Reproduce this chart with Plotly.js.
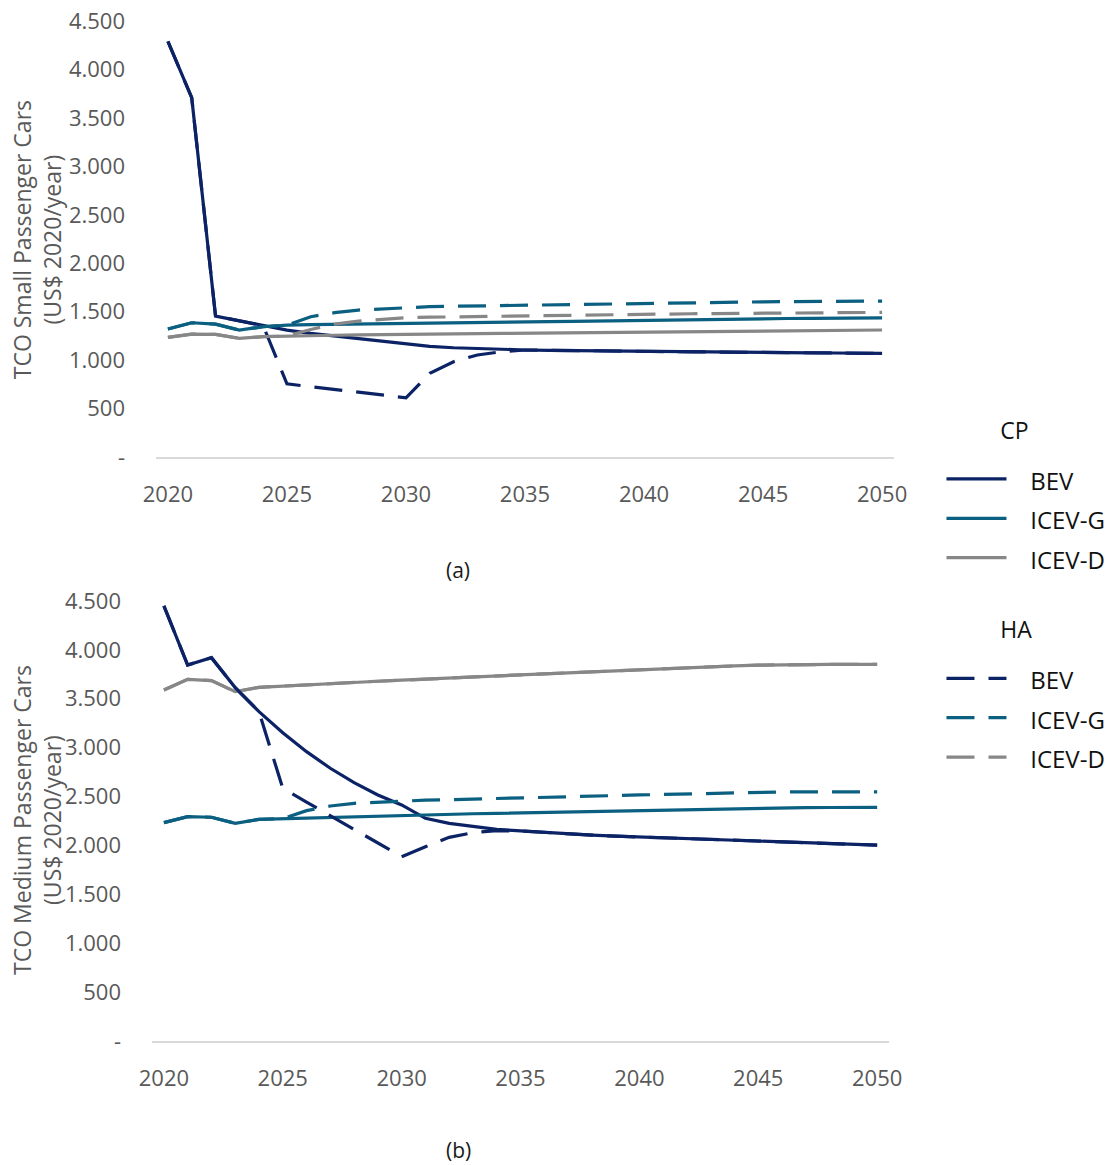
<!DOCTYPE html>
<html>
<head>
<meta charset="utf-8">
<script src="https://cdn.plot.ly/plotly-3.0.1.min.js"></script>
<style>
  html, body { margin: 0; padding: 0; background: #ffffff; }
  #chart { width: 1118px; height: 1165px; }
</style>
</head>
<body>
<div id="chart"></div>
<script>
// Years on the horizontal axis
const years = [2020, 2021, 2022, 2023, 2024, 2025, 2026, 2027, 2028, 2029, 2030,
               2031, 2032, 2033, 2034, 2035, 2036, 2037, 2038, 2039, 2040,
               2041, 2042, 2043, 2044, 2045, 2046, 2047, 2048, 2049, 2050];

// Tick labels
const xTickVals = [2020, 2025, 2030, 2035, 2040, 2045, 2050];
const yTickVals = [0, 500, 1000, 1500, 2000, 2500, 3000, 3500, 4000, 4500];
const yTickText = ['-', '500', '1.000', '1.500', '2.000', '2.500', '3.000', '3.500', '4.000', '4.500'];

// Small passenger cars, US$ 2020/year — CP scenario
const smallCpBev   = [4290, 3708, 1455, 1405, 1356, 1310, 1276, 1249, 1225, 1197, 1176,
                      1142, 1128, 1118, 1111, 1105, 1101, 1098, 1095, 1092, 1090,
                      1088, 1086, 1084, 1082, 1080, 1078, 1076, 1074, 1072, 1070];
const smallCpIcevG = [1321, 1386, 1372, 1310, 1345, 1362, 1366, 1370, 1374, 1378, 1382,
                      1385, 1388, 1390, 1392, 1395, 1398, 1401, 1405, 1409, 1413,
                      1416, 1419, 1422, 1425, 1428, 1430, 1432, 1434, 1436, 1437];
const smallCpIcevD = [1235, 1269, 1266, 1225, 1242, 1249, 1253, 1257, 1261, 1265, 1268,
                      1270, 1272, 1274, 1276, 1278, 1281, 1284, 1287, 1290, 1293,
                      1295, 1297, 1299, 1301, 1303, 1305, 1307, 1309, 1310, 1311];
// Small passenger cars — HA scenario
const smallHaBev   = [4290, 3708, 1455, 1405, 1356, 755, 726, 691, 664, 636, 612,
                      864, 984, 1053, 1087, 1105, 1101, 1098, 1095, 1092, 1090,
                      1088, 1086, 1084, 1082, 1080, 1078, 1076, 1074, 1072, 1070];
const smallHaIcevG = [1321, 1386, 1372, 1310, 1345, 1362, 1448, 1490, 1517, 1531, 1545,
                      1552, 1556, 1560, 1566, 1570, 1573, 1576, 1580, 1584, 1588,
                      1591, 1594, 1597, 1600, 1602, 1604, 1606, 1608, 1609, 1610];
const smallHaIcevD = [1235, 1269, 1266, 1225, 1242, 1249, 1317, 1372, 1403, 1424, 1438,
                      1443, 1447, 1450, 1455, 1458, 1461, 1464, 1467, 1470, 1473,
                      1476, 1479, 1481, 1483, 1485, 1487, 1489, 1491, 1492, 1493];

// Medium passenger cars, US$ 2020/year — CP scenario
const mediumCpBev   = [4449, 3845, 3920, 3614, 3368, 3153, 2959, 2789, 2642, 2516, 2414,
                       2277, 2226, 2192, 2165, 2148, 2132, 2118, 2105, 2095, 2086,
                       2076, 2068, 2059, 2050, 2042, 2034, 2026, 2018, 2010, 2003];
const mediumCpIcevG = [2233, 2294, 2288, 2226, 2267, 2274, 2281, 2288, 2295, 2302, 2309,
                       2314, 2319, 2324, 2328, 2333, 2337, 2341, 2346, 2350, 2355,
                       2361, 2366, 2372, 2377, 2382, 2385, 2387, 2388, 2389, 2390];
const mediumCpIcevD = [3590, 3699, 3685, 3573, 3617, 3631, 3643, 3655, 3667, 3679, 3690,
                       3702, 3714, 3726, 3738, 3745, 3755, 3765, 3776, 3788, 3800,
                       3808, 3816, 3826, 3836, 3844, 3848, 3850, 3851, 3851, 3851];
// Medium passenger cars — HA scenario
const mediumHaBev   = [4449, 3845, 3920, 3614, 3368, 2584, 2444, 2304, 2165, 2025, 1885,
                       1987, 2083, 2131, 2151, 2148, 2132, 2118, 2105, 2095, 2086,
                       2076, 2068, 2059, 2050, 2042, 2034, 2026, 2018, 2010, 2003];
const mediumHaIcevG = [2233, 2294, 2288, 2226, 2267, 2274, 2356, 2403, 2431, 2444, 2458,
                       2463, 2468, 2473, 2477, 2484, 2490, 2497, 2504, 2510, 2516,
                       2522, 2528, 2534, 2540, 2545, 2547, 2548, 2548, 2548, 2548];
const mediumHaIcevD = [3590, 3699, 3685, 3573, 3617, 3631, 3643, 3655, 3667, 3679, 3690,
                       3702, 3714, 3726, 3738, 3745, 3755, 3765, 3776, 3788, 3800,
                       3808, 3816, 3826, 3836, 3844, 3848, 3850, 3851, 3851, 3851];

const scenarios = ['CP', 'HA'];
const technologies = ['BEV', 'ICEV-G', 'ICEV-D'];
const panelLabels = ['(a)', '(b)'];
const axisTitles = ['TCO Small Passenger Cars<br>(US$ 2020/year)',
                    'TCO Medium Passenger Cars<br>(US$ 2020/year)'];

const techColors = { 'BEV': '#0B2265', 'ICEV-G': '#0B5F80', 'ICEV-D': '#878787' };
const scenarioDash = { 'CP': 'solid', 'HA': '28px,14px' };

const panels = [
  { xa: 'x',  ya: 'y',  series: { CP: [smallCpBev, smallCpIcevG, smallCpIcevD],
                                  HA: [smallHaBev, smallHaIcevG, smallHaIcevD] } },
  { xa: 'x2', ya: 'y2', series: { CP: [mediumCpBev, mediumCpIcevG, mediumCpIcevD],
                                  HA: [mediumHaBev, mediumHaIcevG, mediumHaIcevD] } }
];

const TEXT_GREY = '#595959';
const FONT = 'Open Sans, Liberation Sans, sans-serif';
const NBSP = '\u00a0';

// Legend entries: text set apart from the line sample, group headings indented
function legendName(tech) {
  return '<span style="font-size:24px">' + NBSP.repeat(3) + tech + '</span>';
}
function groupHeading(sc) {
  return '<span style="font-size:23px">' + NBSP.repeat(9) + sc + '</span><br>' + NBSP;
}

const traces = [];
panels.forEach((panel, p) => {
  scenarios.forEach(sc => {
    technologies.forEach((tech, t) => {
      traces.push({
        type: 'scatter',
        mode: 'lines',
        x: years,
        y: panel.series[sc][t],
        xaxis: panel.xa,
        yaxis: panel.ya,
        name: legendName(tech),
        legendgroup: sc,
        legendgrouptitle: {
          text: groupHeading(sc),
          font: { size: 12, color: '#111111', family: FONT }
        },
        showlegend: p === 0,
        line: { color: techColors[tech], width: 3.2, dash: scenarioDash[sc] },
        hovertemplate: sc + ' ' + tech + ': %{y}<extra></extra>'
      });
    });
  });
});

function xAxis(domain, anchor) {
  return {
    domain: domain, anchor: anchor,
    range: [2019.5, 2050.5],
    tickmode: 'array', tickvals: xTickVals,
    ticks: '', showgrid: false, zeroline: false,
    showline: true, linecolor: '#d9d9d9', linewidth: 2,
    ticklabelstandoff: 17,
    tickfont: { family: FONT, size: 22, color: TEXT_GREY }
  };
}
function yAxis(domain, anchor) {
  return {
    domain: domain, anchor: anchor,
    range: [0, 4500],
    tickmode: 'array', tickvals: yTickVals, ticktext: yTickText,
    ticks: '', showgrid: false, zeroline: false, showline: false,
    ticklabelstandoff: 30,
    tickfont: { family: FONT, size: 22, color: TEXT_GREY }
  };
}

const layout = {
  width: 1118, height: 1165,
  margin: { l: 152, r: 224, t: 21, b: 124, pad: 0, autoexpand: false },
  paper_bgcolor: '#ffffff', plot_bgcolor: '#ffffff',
  font: { family: FONT, color: TEXT_GREY },
  xaxis:  xAxis([0.0054, 1], 'y'),
  yaxis:  yAxis([0.5725, 1], 'x'),
  xaxis2: xAxis([0, 0.9933], 'y2'),
  yaxis2: yAxis([0, 0.4314], 'x2'),
  showlegend: true,
  legend: {
    x: 1.064, y: 0.6088, xanchor: 'left', yanchor: 'top',
    bgcolor: 'rgba(0,0,0,0)',
    font: { family: FONT, size: 28, color: '#111111' },
    itemwidth: 60,
    tracegroupgap: 47,
    traceorder: 'grouped'
  },
  annotations: [
    { xref: 'paper', yref: 'paper', x: -0.155, y: 0.786, textangle: -90,
      xanchor: 'center', yanchor: 'middle', showarrow: false,
      text: axisTitles[0], font: { family: FONT, size: 23, color: TEXT_GREY } },
    { xref: 'paper', yref: 'paper', x: -0.155, y: 0.2167, textangle: -90,
      xanchor: 'center', yanchor: 'middle', showarrow: false,
      text: axisTitles[1], font: { family: FONT, size: 23, color: TEXT_GREY } },
    { xref: 'paper', yref: 'paper', x: 0.4124, y: 0.4618,
      xanchor: 'center', yanchor: 'middle', showarrow: false,
      text: panelLabels[0], font: { family: FONT, size: 21, color: '#1a1a1a' } },
    { xref: 'paper', yref: 'paper', x: 0.4124, y: -0.1069,
      xanchor: 'center', yanchor: 'middle', showarrow: false,
      text: panelLabels[1], font: { family: FONT, size: 21, color: '#1a1a1a' } }
  ]
};

Plotly.newPlot('chart', traces, layout, { displayModeBar: false, responsive: false });
</script>
</body>
</html>
